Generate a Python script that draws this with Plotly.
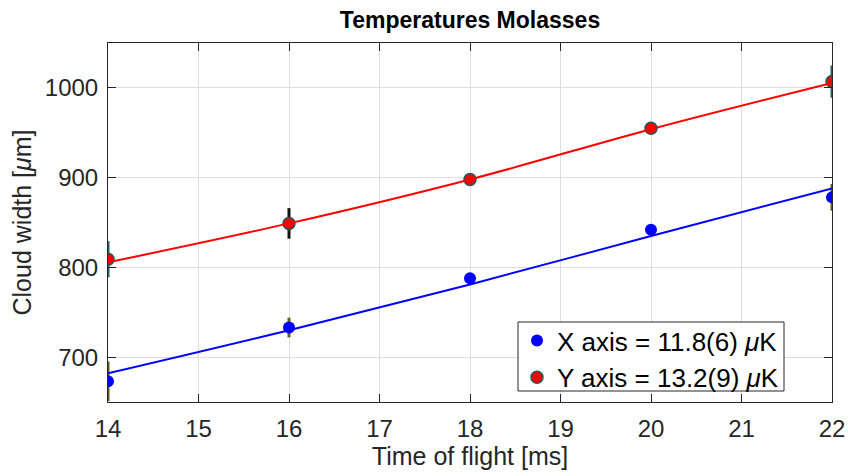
import plotly.graph_objects as go

# ---- data ----
tof_ms = [14, 16, 18, 20, 22]
x_width = [673, 733, 788, 842, 878]
x_err = [22, 11, 4, 4, 15]
y_width = [809, 849, 898, 955, 1007]
y_err = [20, 17, 4, 4, 18]
y_err_colors = ["#246464", "#111111", "#246464", "#246464", "#246464"]
x_fit = [682, 730, 781, 835, 888]
y_fit = [805.6, 849, 898, 954, 1005.5]
x_label = "X axis = 11.8(6) <i>μ</i>K"
y_label = "Y axis = 13.2(9) <i>μ</i>K"
x_ticks = [14, 15, 16, 17, 18, 19, 20, 21, 22]
y_ticks = [700, 800, 900, 1000]

FONT = "Liberation Sans, Arial, Helvetica, sans-serif"

# plot-area geometry in pixels
L, R, T, B = 108, 832, 43, 402
W, H = 848, 476
PW, PH = R - L, B - T

fig = go.Figure()

# error bars (blue series)
fig.add_trace(go.Scatter(
    x=tof_ms, y=x_width, mode="markers",
    marker=dict(size=1, opacity=0),
    error_y=dict(type="data", array=x_err, visible=True, color="#5f5f1f",
                 thickness=3, width=0),
    showlegend=False, hoverinfo="skip"))

# error bars (red series), one trace per colour
for col in sorted(set(y_err_colors)):
    idx = [i for i, c in enumerate(y_err_colors) if c == col]
    fig.add_trace(go.Scatter(
        x=[tof_ms[i] for i in idx], y=[y_width[i] for i in idx], mode="markers",
        marker=dict(size=1, opacity=0),
        error_y=dict(type="data", array=[y_err[i] for i in idx], visible=True,
                     color=col, thickness=3, width=0),
        showlegend=False, hoverinfo="skip"))

# data markers
fig.add_trace(go.Scatter(
    x=tof_ms, y=x_width, mode="markers", name=x_label,
    marker=dict(color="#0000FF", size=12, line=dict(width=0))))
fig.add_trace(go.Scatter(
    x=tof_ms, y=y_width, mode="markers", name=y_label,
    marker=dict(color="#FF0000", size=12, line=dict(color="#1F5A5A", width=1.5))))

# fit lines
fig.add_trace(go.Scatter(
    x=tof_ms, y=x_fit, mode="lines", line=dict(color="#0000FF", width=2, shape="spline"),
    showlegend=False, hoverinfo="skip"))
fig.add_trace(go.Scatter(
    x=tof_ms, y=y_fit, mode="lines", line=dict(color="#FF0000", width=2, shape="spline"),
    showlegend=False, hoverinfo="skip"))

axis_common = dict(
    showline=True, linecolor="#262626", linewidth=1, mirror="ticks",
    ticks="inside", ticklen=8, tickcolor="#262626", tickwidth=1,
    showgrid=True, gridcolor="#DEDEDE", gridwidth=1, zeroline=False,
    tickfont=dict(family=FONT, size=24, color="#262626"),
    automargin=False,
)

# legend box (white background + frame), legend text drawn on top of it
box_l, box_r, box_t, box_b = 518, 784, 322, 391
fig.add_shape(type="rect", xref="paper", yref="paper", layer="above",
              x0=(box_l - L) / PW, x1=(box_r - L) / PW,
              y0=(B - box_b) / PH, y1=(B - box_t) / PH,
              fillcolor="white", line=dict(color="#262626", width=1))

fig.update_layout(
    width=W, height=H,
    paper_bgcolor="white", plot_bgcolor="white",
    margin=dict(l=L, r=W - R, t=T, b=H - B),
    font=dict(family=FONT, color="#262626"),
    title=dict(text="<b>Temperatures Molasses</b>", x=(L + R) / 2 / W, xanchor="center",
               y=1 - 20 / H, yanchor="middle", yref="container",
               font=dict(family=FONT, size=23, color="black")),
    xaxis=dict(range=[14, 22], tickvals=x_ticks, ticklabelstandoff=5,
               title=dict(text="Time of flight [ms]", standoff=4,
                          font=dict(family=FONT, size=25, color="#262626")),
               **axis_common),
    yaxis=dict(range=[650, 1050], tickvals=y_ticks, ticklabelstandoff=4,
               title=dict(text="Cloud width [<i>μ</i>m]", standoff=6,
                          font=dict(family=FONT, size=25, color="#262626")),
               **axis_common),
    legend=dict(x=(box_r - L) / PW, xanchor="right", y=(B - box_t + 5) / PH, yanchor="top",
                bgcolor="rgba(0,0,0,0)", borderwidth=0,
                font=dict(family=FONT, size=26, color="black"),
                itemwidth=30, tracegroupgap=0),
)

fig.write_html("out.html", config={"displayModeBar": False},
               post_script="document.body.style.margin='0';")
